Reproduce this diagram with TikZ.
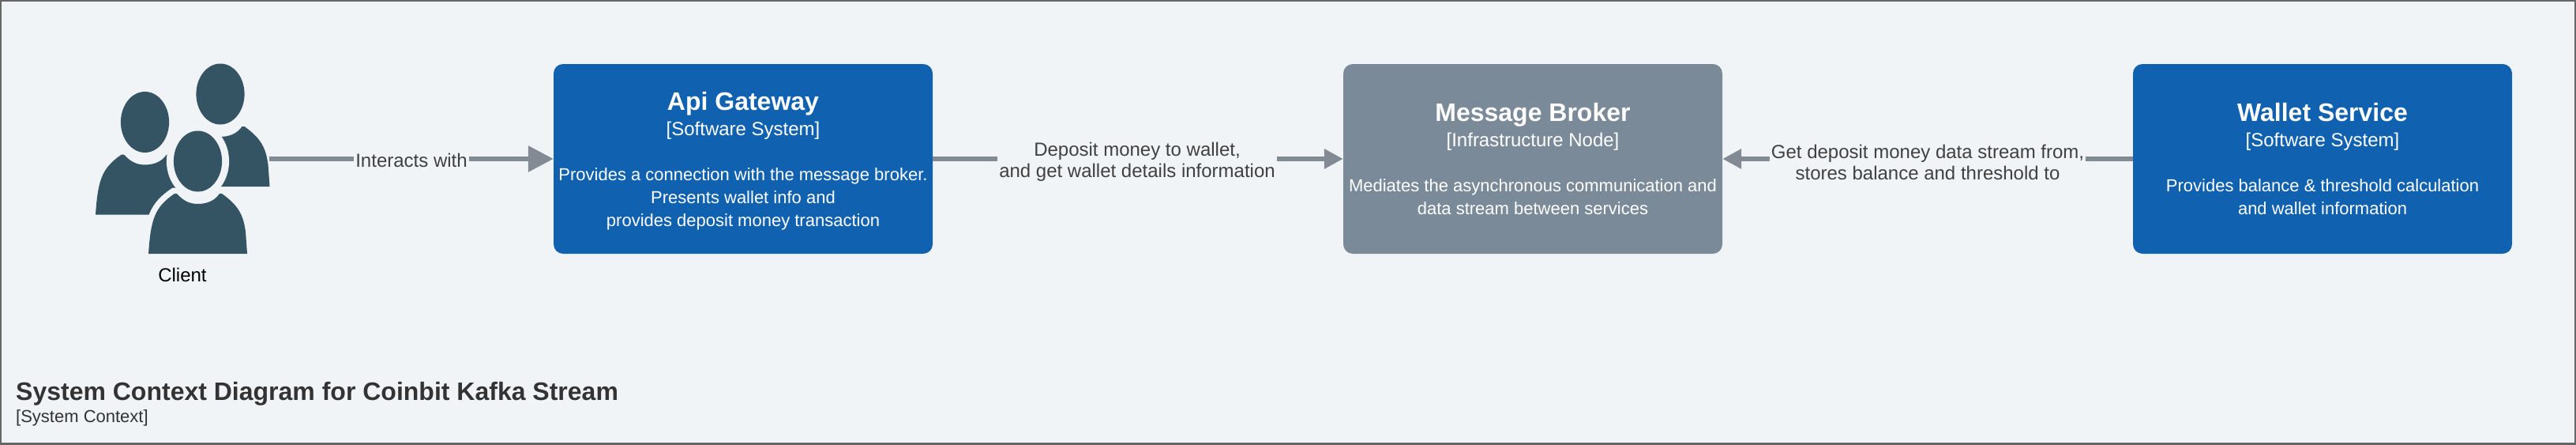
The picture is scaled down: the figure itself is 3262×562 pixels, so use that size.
\documentclass[tikz,border=0pt]{standalone}
\usepackage{fontspec}
\setmainfont{Liberation Sans}
\usetikzlibrary{arrows.meta}
\definecolor{bgc}{HTML}{F1F4F7}
\definecolor{framec}{HTML}{666666}
\definecolor{bluec}{HTML}{1061B0}
\definecolor{grayc}{HTML}{7B8A99}
\definecolor{connc}{HTML}{828B94}
\definecolor{iconc}{HTML}{345464}
\definecolor{labelc}{HTML}{404040}
\definecolor{titlec}{HTML}{333333}
\newcommand{\bodypath}{(188,321) .. controls (191,277) and (196,262) .. (221,245) -- (224,245) .. controls (232,254) and (240,258) .. (250.5,258) .. controls (262,258) and (272,254) .. (278,245) -- (281,245) .. controls (302,260) and (308,272) .. (311,293) -- (313,321) -- cycle}
\newcommand{\headpath}{(250.5,204) ellipse [x radius=30.6, y radius=38.5]}
\tikzset{
  x=1pt,y=-1pt,
  sysbox/.style={rounded corners=12pt,draw=none,minimum width=480pt,minimum height=240pt,inner sep=0pt,align=center,text=white,font=\fontsize{22}{29}\selectfont},
  bluebox/.style={sysbox,fill=bluec},
  graybox/.style={sysbox,fill=grayc},
  conn/.style={draw=connc,line width=6pt},
  bigtip/.style={-{Triangle[length=32pt,width=32pt]}},
  smalltip/.style={-{Triangle[length=24pt,width=24pt]}},
  connlabel/.style={fill=bgc,inner xsep=2pt,inner ysep=0pt,align=center,text=labelc,font=\fontsize{24}{27}\selectfont},
  person/.style={fill=iconc},
  halo/.style={draw=bgc,line width=15pt,fill=bgc},
}
\newcommand{\ttl}[1]{{\fontsize{32}{29}\selectfont\bfseries #1}}
\newcommand{\typ}[1]{{\fontsize{24}{29}\selectfont #1}}
\begin{document}
\begin{tikzpicture}
\useasboundingbox (0,0) rectangle (3262,562);
\fill[bgc] (0,0) rectangle (3262,562);
\draw[framec,line width=4pt] (0,0) rectangle (3262,562);
% Client icon
\begin{scope}[shift={(28.5,-85)}]
  \fill[person] \bodypath; \fill[person] \headpath;
\end{scope}
\begin{scope}[shift={(-67,-49.5)}]
  \fill[person] \bodypath; \fill[person] \headpath;
\end{scope}
\path[halo] \bodypath; \path[halo,line width=18pt] \headpath;
\fill[person] \bodypath; \fill[person] \headpath;
\coordinate (clientedge) at (341,201);
\node[text=black,font=\fontsize{24}{28}\selectfont,anchor=base] (client) at (231,356) {Client};
% Boxes
\node[bluebox] (api) at (941,201) {\rule{0pt}{29pt}\ttl{Api Gateway}\\[3pt]\typ{[Software System]}\\[28pt]Provides a connection with the message broker.\\Presents wallet info and\\provides deposit money transaction};
\node[graybox] (broker) at (1941,201) {\ttl{Message Broker}\\[3pt]\typ{[Infrastructure Node]}\\[28pt]Mediates the asynchronous communication and\\data stream between services};
\node[bluebox] (wallet) at (2941,201) {\ttl{Wallet Service}\\[3pt]\typ{[Software System]}\\[28pt]Provides balance \& threshold calculation\\and wallet information};
% Connectors
\draw[conn,bigtip] (clientedge) -- (api.west);
\draw[conn,smalltip] (api.east) -- (broker.west);
\draw[conn,smalltip] (wallet.west) -- (broker.east);
\node[connlabel] (l1) at (521,203) {Interacts with};
\node[connlabel] (l2) at (1440,205) {Deposit money to wallet,\\and get wallet details information};
\node[connlabel] (l3) at (2441,205) {Get deposit money data stream from,\\stores balance and threshold to};
% Title
\node[anchor=base west,inner sep=0pt,text=titlec,font=\fontsize{32}{36}\selectfont\bfseries] (title) at (20,506) {System Context Diagram for Coinbit Kafka Stream};
\node[anchor=base west,inner sep=0pt,text=titlec,font=\fontsize{22}{26}\selectfont] (subtitle) at (20,534) {[System Context]};
\end{tikzpicture}
\end{document}
